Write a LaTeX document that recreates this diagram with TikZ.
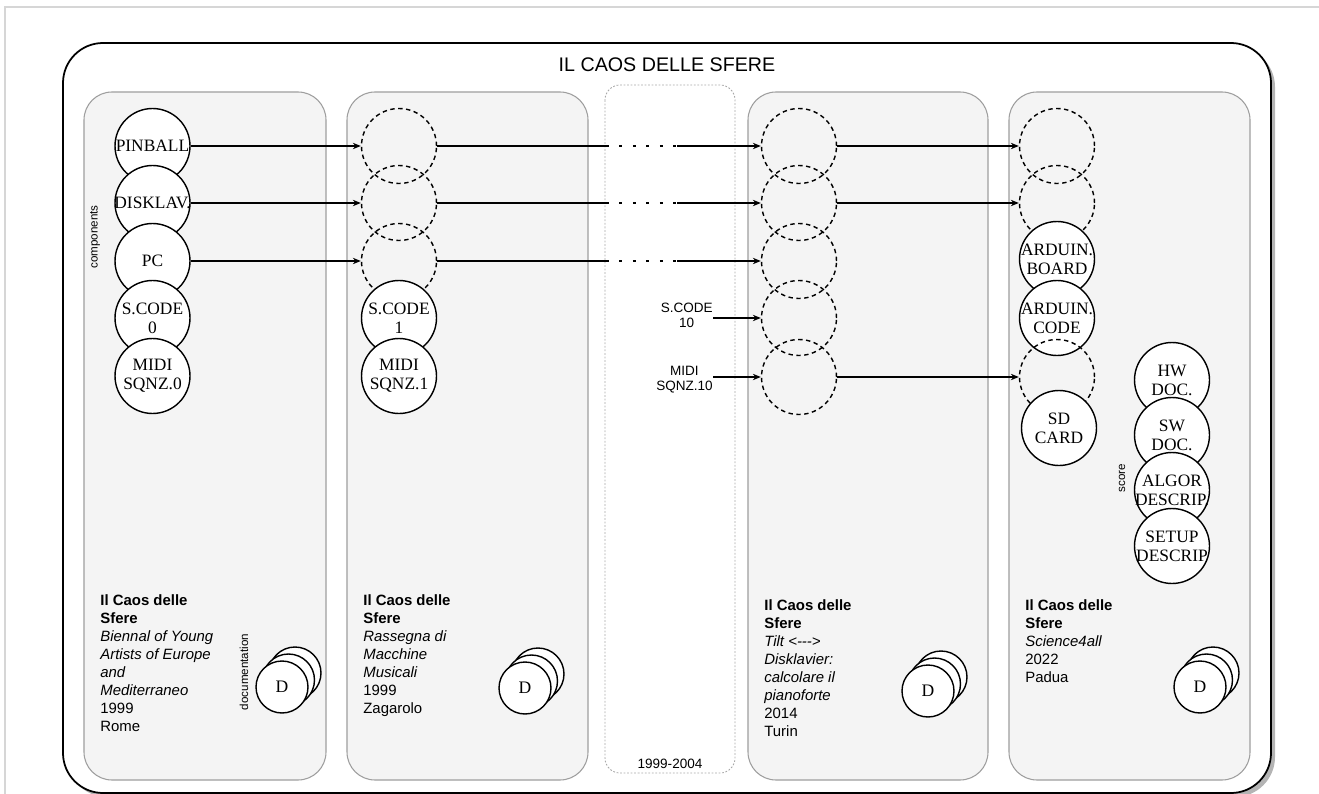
\documentclass[tikz,border=0pt]{standalone}
\usepackage{fontspec}
\setmainfont{Liberation Serif}
\setsansfont{Liberation Sans}
\usepackage{tikz}
\usetikzlibrary{positioning, arrows.meta}
\definecolor{paneFill}{HTML}{F4F4F4}
\definecolor{paneLine}{HTML}{9E9E9E}
\definecolor{gapLine}{HTML}{A8A8A8}
\definecolor{shadowGray}{HTML}{B4B4B4}
\definecolor{frameGray}{HTML}{D6D6D6}
\tikzset{
  pane/.style={draw=paneLine, fill=paneFill, line width=0.6pt, rounded corners=0.56cm},
  gapbox/.style={draw=gapLine, fill=white, line width=0.5pt, dash pattern=on 1pt off 1pt, rounded corners=0.3cm},
  outerbox/.style={draw=black, fill=white, line width=1pt, rounded corners=0.8cm},
}
\tikzset{
  comp/.style={circle, draw, line width=0.8pt, fill=white, minimum size=1.5cm, inner sep=0pt},
  ghost/.style={circle, draw, line width=0.8pt, dash pattern=on 2.5pt off 2pt, minimum size=1.5cm, inner sep=0pt},
  clbl/.style={inner sep=0pt, align=center, font=\fontsize{9.9}{10.8}\selectfont},
  doccirc/.style={circle, draw, line width=0.8pt, fill=white, minimum size=1.04cm, inner sep=0pt,
    font=\fontsize{10}{12}\selectfont},
  panetext/.style={anchor=north west, inner sep=0pt, align=left, font=\sffamily\fontsize{8.5}{10.3}\selectfont},
  sidelbl/.style={rotate=90, inner sep=0pt, font=\sffamily\fontsize{6.6}{8}\selectfont},
  gaplbl/.style={anchor=east, inner sep=0pt, align=center, font=\sffamily\fontsize{7.7}{8.6}\selectfont},
  linkline/.style={line width=0.75pt},
  linkarrow/.style={linkline, -{Stealth[length=4.5pt,width=3.6pt]}},
  gapdots/.style={line width=1.7pt, dash pattern=on 1.7pt off 5.95pt},
}

\begin{document}
\begin{tikzpicture}[x=0.02cm, y=-0.02cm]
  \useasboundingbox (0,0) rectangle (1319,794);
  \draw[frameGray, line width=0.8pt] (5,794) -- (5,7) -- (1319,7);

  % outer frame with its shadow
  \fill[shadowGray, rounded corners=0.8cm] (67,47) rectangle (1275,797);
  \draw[outerbox] (63,43) rectangle (1271,793);
  \node[font=\sffamily\fontsize{11.2}{13}\selectfont] (title) at (667,65) {IL CAOS DELLE SFERE};

  % the four editions and the gap
  \draw[pane] (84,92) rectangle (326,780);
  \draw[pane] (347,92) rectangle (588,780);
  \draw[gapbox] (605,85) rectangle (735,773);
  \draw[pane] (748,92) rectangle (988,780);
  \draw[pane] (1009,92) rectangle (1250,780);

  % 1999 Rome
  \node[comp, label={[clbl]center:PINBALL}] (pinball) at (152.5,146) {};
  \node[comp, label={[clbl]center:DISKLAV.}] (disklav) at (152.5,203) {};
  \node[comp, label={[clbl]center:PC}] (pc) at (152.5,261) {};
  \node[comp, label={[clbl]center:S.CODE\\0}] (scode0) at (152.5,318) {};
  \node[comp, label={[clbl]center:MIDI\\SQNZ.0}] (midi0) at (152.5,376) {};
  \node[sidelbl] (complbl) at (95,237) {components};

  % 1999 Zagarolo
  \node[ghost] (g21) at (399,146) {};
  \node[ghost] (g22) at (399,203) {};
  \node[ghost] (g23) at (399,261) {};
  \node[comp, label={[clbl]center:S.CODE\\1}] (scode1) at (399,318) {};
  \node[comp, label={[clbl]center:MIDI\\SQNZ.1}] (midi1) at (399,376) {};

  % 2014 Turin
  \node[ghost] (g31) at (799,146) {};
  \node[ghost] (g32) at (799,203) {};
  \node[ghost] (g33) at (799,261) {};
  \node[ghost] (g34) at (799,318) {};
  \node[ghost] (g35) at (799,377) {};

  % 2022 Padua
  \node[ghost] (g41) at (1057,146) {};
  \node[ghost] (g42) at (1057,203) {};
  \node[comp, label={[clbl]center:ARDUIN.\\BOARD}] (ardboard) at (1057,259) {};
  \node[comp, label={[clbl]center:ARDUIN.\\CODE}] (ardcode) at (1057,318) {};
  \node[ghost] (g45) at (1057,377) {};
  \node[comp, label={[clbl]center:SD\\CARD}] (sdcard) at (1059,428) {};
  \node[comp, label={[clbl]center:HW\\DOC.}] (hwdoc) at (1172,380) {};
  \node[comp, label={[clbl]center:SW\\DOC.}] (swdoc) at (1172,435) {};
  \node[comp, label={[clbl]center:ALGOR\\DESCRIP.}] (algor) at (1172,490) {};
  \node[comp, label={[clbl]center:SETUP\\DESCRIP}] (setup) at (1172,546) {};
  \node[sidelbl] (scorelbl) at (1122,478) {score};

  % links
  \draw[linkarrow] (pinball) -- (g21);
  \draw[linkarrow] (disklav) -- (g22);
  \draw[linkarrow] (pc) -- (g23);
  \foreach \r/\y in {1/146, 2/203, 3/261} {
    \coordinate (dots\r a) at (606,\y);
    \coordinate (dots\r b) at (677,\y);
    \draw[linkline] (g2\r) -- (dots\r a);
    \draw[gapdots] (dots\r a) -- (dots\r b);
    \draw[linkarrow] (dots\r b) -- (g3\r);
  }
  \node[gaplbl] (scode10) at (713,315) {S.CODE\\10};
  \node[gaplbl] (midi10) at (713,380) {MIDI\\SQNZ.10};
  \draw[linkarrow] (scode10.east |- g34) -- (g34);
  \draw[linkarrow] (midi10.east |- g35) -- (g35);
  \draw[linkarrow] (g31) -- (g41);
  \draw[linkarrow] (g32) -- (g42);
  \draw[linkarrow] (g35) -- (g45);
  \node[font=\sffamily\fontsize{7.7}{9}\selectfont] (gapyears) at (670,764) {1999-2004};

  % edition notes
  \node[panetext] (note1) at (100,594) {\textbf{Il Caos delle}\\\textbf{Sfere}\\\textit{Biennal of Young}\\
    \textit{Artists of Europe}\\\textit{and}\\\textit{Mediterraneo}\\1999\\Rome};
  \node[panetext] (note2) at (363,594) {\textbf{Il Caos delle}\\\textbf{Sfere}\\\textit{Rassegna di}\\
    \textit{Macchine}\\\textit{Musicali}\\1999\\Zagarolo};
  \node[panetext] (note3) at (764,599) {\textbf{Il Caos delle}\\\textbf{Sfere}\\\textit{Tilt <-{}-{}->}\\
    \textit{Disklavier:}\\\textit{calcolare il}\\\textit{pianoforte}\\2014\\Turin};
  \node[panetext] (note4) at (1025,599) {\textbf{Il Caos delle}\\\textbf{Sfere}\\\textit{Science4all}\\2022\\Padua};

  % documentation stacks
  \foreach \dx/\dy/\n in {282/687/1, 525/688/2, 928/691/3, 1200/687/4} {
    \node[doccirc] (doc\n back) at (\dx+13,\dy-14) {};
    \node[doccirc] (doc\n mid) at (\dx+6.5,\dy-7) {};
    \node[doccirc] (doc\n front) at (\dx,\dy) {D};
  }
  \node[sidelbl] (doclbl) at (244,672) {documentation};
\end{tikzpicture}
\end{document}
